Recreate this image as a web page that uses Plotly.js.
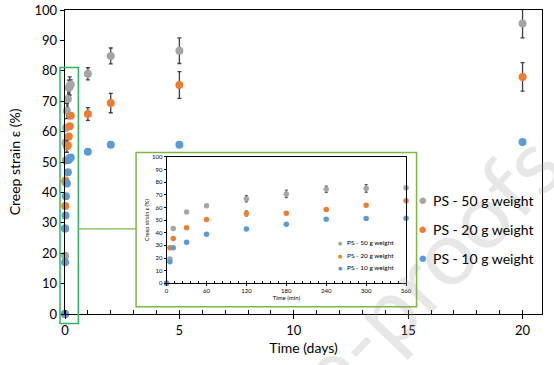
<!DOCTYPE html>
<html>
<head>
<meta charset="utf-8">
<script src="https://cdn.plot.ly/plotly-3.0.1.min.js"></script>
<style>html,body{margin:0;padding:0;background:#fff;}#chart{width:554px;height:365px;}</style>
</head>
<body>
<div id="chart"></div>
<script>
// ---- Data ----
// Early-time measurements (minutes)
const timeMin = [0, 5, 10, 30, 60, 120, 180, 240, 300, 360];
const strain50Min = [0, 19.2, 43.4, 56.3, 61.3, 66.8, 70.7, 74.4, 75, 75.5];
const strain20Min = [0, 28.1, 35.5, 43.9, 50.5, 55.2, 55.4, 58.4, 61.8, 65.2];
const strain10Min = [0, 17, 28.1, 32.4, 38.7, 42.9, 46.6, 50.7, 51.3, 51.5];
const err50Min = [0, 1, 1, 1, 1, 2.5, 3, 2.5, 3, 1.5];
const err20Min = [0, 0.5, 0.5, 0.5, 0.5, 2, 0.6, 0.6, 0.6, 0.6];
const err10Min = [0, 0.5, 0.5, 0.5, 0.5, 0.5, 0.5, 1, 0.6, 0.6];
// Long-time measurements (days)
const timeDays = [1, 2, 5, 20];
const strain50Days = [79, 84.9, 86.6, 95.6];
const strain20Days = [65.8, 69.4, 75.3, 78];
const strain10Days = [53.4, 55.7, 55.7, 56.6];
const err50Days = [2, 2.6, 4.2, 4.8];
const err20Days = [2.1, 3.2, 4.4, 4.7];
const err10Days = [0.8, 0.8, 0.8, 0.5];
const seriesNames = ['PS - 50 g weight', 'PS - 20 g weight', 'PS - 10 g weight'];
const colors = ['#a5a5a5', '#ed7d31', '#5b9bd5'];

const minPerDay = 1440;
const mainX = timeMin.map(t => t / minPerDay).concat(timeDays);

const FONT = 'Lato, "Open Sans", sans-serif';
const minSeries = [strain50Min, strain20Min, strain10Min];
const minErr = [err50Min, err20Min, err10Min];
const daySeries = [strain50Days, strain20Days, strain10Days];
const dayErr = [err50Days, err20Days, err10Days];

const traces = [];
for (let i = 0; i < 3; i++) {
  traces.push({
    type: 'scatter', mode: 'markers', name: seriesNames[i], showlegend: false,
    x: mainX, y: minSeries[i].concat(daySeries[i]),
    error_y: {type: 'data', array: minErr[i].concat(dayErr[i]), color: '#404040', thickness: 1.3, width: 2},
    marker: {color: colors[i], size: 8},
    xaxis: 'x', yaxis: 'y', cliponaxis: false
  });
}
for (let i = 0; i < 3; i++) {
  traces.push({
    type: 'scatter', mode: 'markers', name: seriesNames[i], showlegend: false,
    x: timeMin, y: minSeries[i],
    error_y: {type: 'data', array: minErr[i], color: '#404040', thickness: 1, width: 1.5},
    marker: {color: colors[i], size: 5.5},
    xaxis: 'x2', yaxis: 'y2', cliponaxis: false
  });
}

const baseAx = {showgrid: false, zeroline: false, showline: true, linecolor: '#000', linewidth: 1.3, mirror: true,
  tickcolor: '#000', tickfont: {family: FONT, size: 13, color: '#000'}};

// Legend entries (drawn as text annotations so spacing matches the original)
function legendAnn(xDot, xText, ys, dotSize, textSize) {
  const out = [];
  seriesNames.forEach((nm, i) => {
    out.push({text: '●', xref: 'paper', yref: 'paper', x: xDot, y: ys[i], xanchor: 'center', yanchor: 'middle',
      showarrow: false, font: {family: 'DejaVu Sans', size: dotSize, color: colors[i]}});
    out.push({text: nm, xref: 'paper', yref: 'paper', x: xText, y: ys[i], xanchor: 'left', yanchor: 'middle',
      showarrow: false, font: {family: FONT, size: textSize, color: '#000'}});
  });
  return out;
}

const layout = {
  width: 554, height: 365,
  margin: {l: 65, r: 12, t: 10, b: 51},
  paper_bgcolor: '#fff', plot_bgcolor: 'rgba(0,0,0,0)',
  font: {family: FONT, color: '#000'},
  showlegend: false,
  xaxis: Object.assign({}, baseAx, {
    domain: [0, 1], anchor: 'y', range: [0, 20.85], tickvals: [0, 5, 10, 15, 20],
    ticks: 'outside', ticklen: 4,
    minor: {dtick: 1, ticks: 'inside', ticklen: 4, tickcolor: '#000'},
    title: {text: 'Time (days)', font: {family: FONT, size: 14}, standoff: 6}
  }),
  yaxis: Object.assign({}, baseAx, {
    domain: [0, 1], anchor: 'x', range: [0, 100], dtick: 10,
    ticks: 'outside', ticklen: 4,
    title: {text: 'Creep strain ε (%)', font: {family: FONT, size: 14}, standoff: 10}
  }),
  xaxis3: {overlaying: 'x', anchor: 'y', range: [0, 20.85], tickvals: [0, 5, 10, 15, 20], ticks: 'inside', ticklen: 4,
    tickcolor: '#000', showticklabels: false, showgrid: false, zeroline: false, showline: false},
  yaxis3: {overlaying: 'y', anchor: 'x', range: [0, 100], dtick: 10, ticks: 'inside', ticklen: 4,
    tickcolor: '#000', showticklabels: false, showgrid: false, zeroline: false, showline: false},
  xaxis2: Object.assign({}, baseAx, {
    domain: [0.213, 0.715], anchor: 'y2', range: [0, 360], dtick: 60, linewidth: 1,
    ticks: 'outside', ticklen: 2, tickfont: {family: FONT, size: 6, color: '#000'},
    minor: {dtick: 12, ticks: 'inside', ticklen: 2, tickcolor: '#000'},
    title: {text: 'Time (min)', font: {family: FONT, size: 6}, standoff: 1}
  }),
  yaxis2: Object.assign({}, baseAx, {
    domain: [0.101, 0.517], anchor: 'x2', range: [0, 100], dtick: 10, linewidth: 1,
    ticks: 'outside', ticklen: 2, tickfont: {family: FONT, size: 6, color: '#000'},
    title: {text: 'Creep strain ε (%)', font: {family: FONT, size: 5.5}, standoff: 2}
  }),
  shapes: [
    {type: 'rect', xref: 'paper', yref: 'paper', x0: 0.149, x1: 0.737, y0: 0.024, y1: 0.531,
      line: {color: '#7ab648', width: 1.5}, fillcolor: '#fff', layer: 'below'},
    {type: 'rect', xref: 'paper', yref: 'paper', x0: -0.0105, x1: 0.028, y0: -0.031, y1: 0.811,
      line: {color: '#2fb760', width: 1.5}, fillcolor: 'rgba(0,0,0,0)', layer: 'above'},
    {type: 'line', xref: 'paper', yref: 'paper', x0: 0.028, x1: 0.149, y0: 0.28, y1: 0.28,
      line: {color: '#7ab648', width: 1.2}}
  ],
  annotations: [
    {text: 'Journal Pre-proofs', xref: 'paper', yref: 'paper', x: 0.472, y: -0.312, xanchor: 'center', yanchor: 'middle',
      showarrow: false, textangle: -46, font: {family: FONT, size: 90, color: 'rgba(160,160,160,0.25)'}}
  ].concat(
    legendAnn(0.7505, 0.767, [0.375, 0.2796, 0.1842], 8.5, 14),
    legendAnn(0.5786, 0.586, [0.2345, 0.1918, 0.1523], 5, 6.5)
  )
};

Plotly.newPlot('chart', traces, layout, {displayModeBar: false, staticPlot: true});
</script>
</body>
</html>
